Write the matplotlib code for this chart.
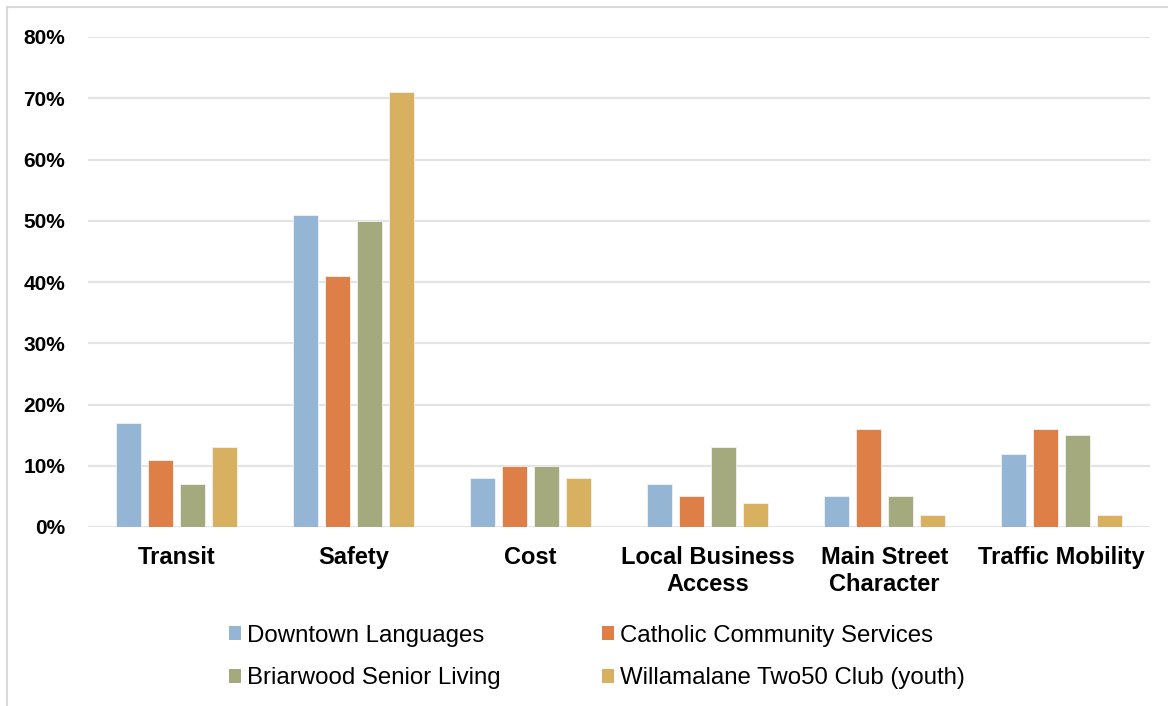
import numpy as np
import matplotlib.pyplot as plt
from matplotlib.patches import Rectangle, Patch

categories = ['Transit', 'Safety', 'Cost', 'Local Business\nAccess',
              'Main Street\nCharacter', 'Traffic Mobility']
series_names = ['Downtown Languages', 'Catholic Community Services',
                'Briarwood Senior Living', 'Willamalane Two50 Club (youth)']
downtown = [17, 51, 8, 7, 5, 12]
catholic = [11, 41, 10, 5, 16, 16]
briarwood = [7, 50, 10, 13, 5, 15]
willamalane = [13, 71, 8, 4, 2, 2]
yticks = [0, 10, 20, 30, 40, 50, 60, 70, 80]

colors = ['#95B5D4', '#DF7F48', '#A5AA7E', '#D8B160']
values = [downtown, catholic, briarwood, willamalane]

plt.rcParams['font.family'] = ['Liberation Sans', 'DejaVu Sans']

fig = plt.figure(figsize=(11.68, 7.06), dpi=100)
ax = fig.add_axes([88 / 1168, 1 - 527 / 706, (1150 - 88) / 1168, (527 - 37) / 706])

# outer chart frame (only top and left visible)
fig.patches.append(Rectangle((7 / 1168, -0.1), 1.2, 1 - 7 / 706 + 0.1,
                             transform=fig.transFigure, fill=False,
                             edgecolor='#D9D9D9', linewidth=1.5))

x = np.arange(len(categories))
width = 0.143
step = 0.181
for i, (vals, c) in enumerate(zip(values, colors)):
    offset = (i - 1.5) * step
    ax.bar(x + offset, vals, width, color=c, edgecolor='#F2F2F2',
           linewidth=0.6, zorder=3, label=series_names[i])

ax.set_xlim(-0.5, len(categories) - 0.5)
ax.set_ylim(0, 80)
ax.set_yticks(yticks)
ax.set_yticklabels([f'{t}%' for t in yticks], fontsize=15, fontweight='bold')
ax.set_xticks(x)
ax.set_xticklabels(categories, fontsize=17, fontweight='bold', linespacing=1.2)
ax.tick_params(axis='both', length=0)
ax.tick_params(axis='x', pad=14)
ax.tick_params(axis='y', pad=16.5)
ax.grid(axis='y', color='#E3E3E3', linewidth=1.5, zorder=0)
for s in ax.spines.values():
    s.set_visible(False)

handles = [Patch(facecolor=colors[i], label=series_names[i]) for i in [0, 2, 1, 3]]
fig.legend(handles=handles, ncol=2, loc='center', bbox_to_anchor=(597 / 1168, 1 - 657 / 706),
           frameon=False, fontsize=17.3, handlelength=0.5, handleheight=0.5,
           handletextpad=0.25, columnspacing=4.2, labelspacing=0.85)

fig.savefig('out.png', dpi=100)
